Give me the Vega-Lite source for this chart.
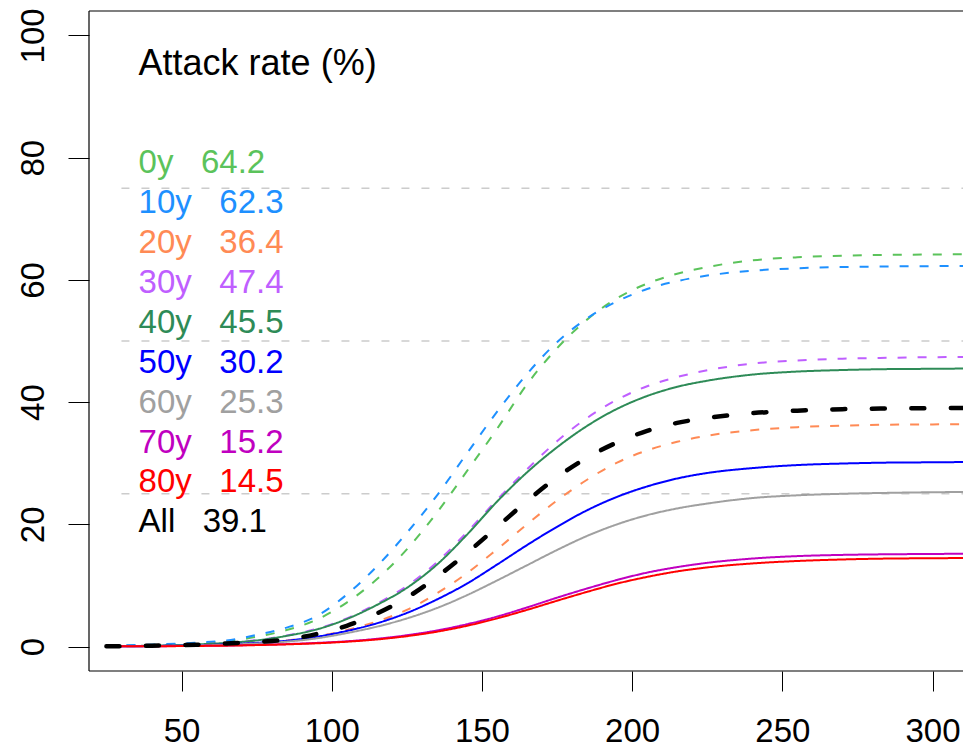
{
  "$schema": "https://vega.github.io/schema/vega-lite/v6.json",
  "width": 874,
  "height": 660,
  "autosize": {"type": "none"},
  "padding": {"left": 89, "top": 11, "right": 0, "bottom": 78},
  "background": "white",
  "config": {
    "view": {"stroke": null},
    "font": "Liberation Sans",
    "axis": {"domain": false, "grid": false, "tickColor": "black", "tickWidth": 1, "labelFontSize": 33, "labelColor": "black",
             "labelFont": "Liberation Sans", "labelOverlap": false, "labelFlush": false, "labelBound": false},
    "axisX": {"tickSize": 20, "labelPadding": 24},
    "axisY": {"tickSize": 21, "labelAngle": 270, "labelAlign": "center", "labelBaseline": "alphabetic", "labelPadding": 25}
  },
  "datasets": {
    "curves": [
      {"day":25,"group":"0y","rate":0.1},{"day":35,"group":"0y","rate":0.2},{"day":45,"group":"0y","rate":0.35},{"day":55,"group":"0y","rate":0.55},{"day":65,"group":"0y","rate":0.85},{"day":75,"group":"0y","rate":1.6},{"day":85,"group":"0y","rate":2.7},{"day":95,"group":"0y","rate":4.4},{"day":105,"group":"0y","rate":7.2},{"day":115,"group":"0y","rate":11.0},{"day":125,"group":"0y","rate":15.9},{"day":135,"group":"0y","rate":21.9},{"day":145,"group":"0y","rate":28.7},{"day":155,"group":"0y","rate":35.6},{"day":165,"group":"0y","rate":42.9},{"day":175,"group":"0y","rate":48.8},{"day":185,"group":"0y","rate":53.5},{"day":195,"group":"0y","rate":57.0},{"day":205,"group":"0y","rate":59.4},{"day":215,"group":"0y","rate":61.0},{"day":225,"group":"0y","rate":62.1},{"day":240,"group":"0y","rate":63.2},{"day":255,"group":"0y","rate":63.7},{"day":270,"group":"0y","rate":63.95},{"day":285,"group":"0y","rate":64.1},{"day":300,"group":"0y","rate":64.15},{"day":312,"group":"0y","rate":64.2},
      {"day":25,"group":"10y","rate":0.15},{"day":35,"group":"10y","rate":0.25},{"day":45,"group":"10y","rate":0.4},{"day":55,"group":"10y","rate":0.65},{"day":65,"group":"10y","rate":1.0},{"day":75,"group":"10y","rate":1.9},{"day":85,"group":"10y","rate":3.1},{"day":95,"group":"10y","rate":5.0},{"day":105,"group":"10y","rate":8.5},{"day":115,"group":"10y","rate":13.1},{"day":125,"group":"10y","rate":18.6},{"day":135,"group":"10y","rate":24.7},{"day":145,"group":"10y","rate":31.6},{"day":155,"group":"10y","rate":38.4},{"day":165,"group":"10y","rate":44.6},{"day":175,"group":"10y","rate":49.8},{"day":185,"group":"10y","rate":53.7},{"day":195,"group":"10y","rate":56.5},{"day":205,"group":"10y","rate":58.5},{"day":215,"group":"10y","rate":59.8},{"day":225,"group":"10y","rate":60.7},{"day":240,"group":"10y","rate":61.5},{"day":255,"group":"10y","rate":61.9},{"day":270,"group":"10y","rate":62.1},{"day":285,"group":"10y","rate":62.2},{"day":300,"group":"10y","rate":62.25},{"day":312,"group":"10y","rate":62.3},
      {"day":25,"group":"20y","rate":0.03},{"day":35,"group":"20y","rate":0.07},{"day":45,"group":"20y","rate":0.12},{"day":55,"group":"20y","rate":0.2},{"day":65,"group":"20y","rate":0.35},{"day":75,"group":"20y","rate":0.6},{"day":85,"group":"20y","rate":1.0},{"day":95,"group":"20y","rate":1.65},{"day":105,"group":"20y","rate":2.7},{"day":115,"group":"20y","rate":4.1},{"day":125,"group":"20y","rate":6.0},{"day":135,"group":"20y","rate":8.7},{"day":145,"group":"20y","rate":12.0},{"day":155,"group":"20y","rate":15.9},{"day":165,"group":"20y","rate":20.0},{"day":175,"group":"20y","rate":23.9},{"day":185,"group":"20y","rate":27.3},{"day":195,"group":"20y","rate":30.1},{"day":205,"group":"20y","rate":32.1},{"day":215,"group":"20y","rate":33.5},{"day":225,"group":"20y","rate":34.5},{"day":240,"group":"20y","rate":35.4},{"day":255,"group":"20y","rate":35.9},{"day":270,"group":"20y","rate":36.15},{"day":285,"group":"20y","rate":36.3},{"day":300,"group":"20y","rate":36.35},{"day":312,"group":"20y","rate":36.4},
      {"day":25,"group":"30y","rate":0.05},{"day":35,"group":"30y","rate":0.1},{"day":45,"group":"30y","rate":0.2},{"day":55,"group":"30y","rate":0.35},{"day":65,"group":"30y","rate":0.6},{"day":75,"group":"30y","rate":1.05},{"day":85,"group":"30y","rate":1.8},{"day":95,"group":"30y","rate":2.9},{"day":105,"group":"30y","rate":4.6},{"day":115,"group":"30y","rate":7.0},{"day":125,"group":"30y","rate":9.9},{"day":135,"group":"30y","rate":13.8},{"day":145,"group":"30y","rate":18.7},{"day":155,"group":"30y","rate":24.0},{"day":165,"group":"30y","rate":29.0},{"day":175,"group":"30y","rate":33.6},{"day":185,"group":"30y","rate":37.4},{"day":195,"group":"30y","rate":40.4},{"day":205,"group":"30y","rate":42.6},{"day":215,"group":"30y","rate":44.1},{"day":225,"group":"30y","rate":45.2},{"day":240,"group":"30y","rate":46.3},{"day":255,"group":"30y","rate":46.8},{"day":270,"group":"30y","rate":47.1},{"day":285,"group":"30y","rate":47.25},{"day":300,"group":"30y","rate":47.35},{"day":312,"group":"30y","rate":47.4},
      {"day":25,"group":"40y","rate":0.05},{"day":35,"group":"40y","rate":0.1},{"day":45,"group":"40y","rate":0.2},{"day":55,"group":"40y","rate":0.35},{"day":65,"group":"40y","rate":0.6},{"day":75,"group":"40y","rate":1.0},{"day":85,"group":"40y","rate":1.75},{"day":95,"group":"40y","rate":2.8},{"day":105,"group":"40y","rate":4.5},{"day":115,"group":"40y","rate":6.8},{"day":125,"group":"40y","rate":9.6},{"day":135,"group":"40y","rate":13.4},{"day":145,"group":"40y","rate":18.3},{"day":155,"group":"40y","rate":23.7},{"day":165,"group":"40y","rate":28.5},{"day":175,"group":"40y","rate":32.6},{"day":185,"group":"40y","rate":36.1},{"day":195,"group":"40y","rate":38.9},{"day":205,"group":"40y","rate":41.0},{"day":215,"group":"40y","rate":42.5},{"day":225,"group":"40y","rate":43.5},{"day":240,"group":"40y","rate":44.5},{"day":255,"group":"40y","rate":45.0},{"day":270,"group":"40y","rate":45.25},{"day":285,"group":"40y","rate":45.4},{"day":300,"group":"40y","rate":45.45},{"day":312,"group":"40y","rate":45.5},
      {"day":25,"group":"50y","rate":0.03},{"day":35,"group":"50y","rate":0.06},{"day":45,"group":"50y","rate":0.12},{"day":55,"group":"50y","rate":0.2},{"day":65,"group":"50y","rate":0.35},{"day":75,"group":"50y","rate":0.6},{"day":85,"group":"50y","rate":0.95},{"day":95,"group":"50y","rate":1.6},{"day":105,"group":"50y","rate":2.55},{"day":115,"group":"50y","rate":3.8},{"day":125,"group":"50y","rate":5.5},{"day":135,"group":"50y","rate":7.7},{"day":145,"group":"50y","rate":10.3},{"day":155,"group":"50y","rate":13.4},{"day":165,"group":"50y","rate":16.6},{"day":175,"group":"50y","rate":19.6},{"day":185,"group":"50y","rate":22.3},{"day":195,"group":"50y","rate":24.5},{"day":205,"group":"50y","rate":26.2},{"day":215,"group":"50y","rate":27.5},{"day":225,"group":"50y","rate":28.4},{"day":240,"group":"50y","rate":29.2},{"day":255,"group":"50y","rate":29.7},{"day":270,"group":"50y","rate":29.95},{"day":285,"group":"50y","rate":30.1},{"day":300,"group":"50y","rate":30.15},{"day":312,"group":"50y","rate":30.2},
      {"day":25,"group":"60y","rate":0.03},{"day":35,"group":"60y","rate":0.06},{"day":45,"group":"60y","rate":0.1},{"day":55,"group":"60y","rate":0.18},{"day":65,"group":"60y","rate":0.3},{"day":75,"group":"60y","rate":0.5},{"day":85,"group":"60y","rate":0.8},{"day":95,"group":"60y","rate":1.35},{"day":105,"group":"60y","rate":2.2},{"day":115,"group":"60y","rate":3.25},{"day":125,"group":"60y","rate":4.6},{"day":135,"group":"60y","rate":6.3},{"day":145,"group":"60y","rate":8.4},{"day":155,"group":"60y","rate":10.8},{"day":165,"group":"60y","rate":13.3},{"day":175,"group":"60y","rate":15.8},{"day":185,"group":"60y","rate":18.1},{"day":195,"group":"60y","rate":20.0},{"day":205,"group":"60y","rate":21.5},{"day":215,"group":"60y","rate":22.6},{"day":225,"group":"60y","rate":23.4},{"day":240,"group":"60y","rate":24.3},{"day":255,"group":"60y","rate":24.75},{"day":270,"group":"60y","rate":25.0},{"day":285,"group":"60y","rate":25.15},{"day":300,"group":"60y","rate":25.25},{"day":312,"group":"60y","rate":25.3},
      {"day":25,"group":"70y","rate":0.02},{"day":35,"group":"70y","rate":0.04},{"day":45,"group":"70y","rate":0.07},{"day":55,"group":"70y","rate":0.1},{"day":65,"group":"70y","rate":0.17},{"day":75,"group":"70y","rate":0.27},{"day":85,"group":"70y","rate":0.4},{"day":95,"group":"70y","rate":0.6},{"day":105,"group":"70y","rate":0.86},{"day":115,"group":"70y","rate":1.27},{"day":125,"group":"70y","rate":1.85},{"day":135,"group":"70y","rate":2.63},{"day":145,"group":"70y","rate":3.65},{"day":155,"group":"70y","rate":4.9},{"day":165,"group":"70y","rate":6.4},{"day":175,"group":"70y","rate":8.0},{"day":185,"group":"70y","rate":9.5},{"day":195,"group":"70y","rate":10.9},{"day":205,"group":"70y","rate":12.1},{"day":215,"group":"70y","rate":13.0},{"day":225,"group":"70y","rate":13.7},{"day":240,"group":"70y","rate":14.4},{"day":255,"group":"70y","rate":14.8},{"day":270,"group":"70y","rate":15.0},{"day":285,"group":"70y","rate":15.1},{"day":300,"group":"70y","rate":15.15},{"day":312,"group":"70y","rate":15.2},
      {"day":25,"group":"80y","rate":0.02},{"day":35,"group":"80y","rate":0.04},{"day":45,"group":"80y","rate":0.06},{"day":55,"group":"80y","rate":0.1},{"day":65,"group":"80y","rate":0.15},{"day":75,"group":"80y","rate":0.24},{"day":85,"group":"80y","rate":0.36},{"day":95,"group":"80y","rate":0.53},{"day":105,"group":"80y","rate":0.79},{"day":115,"group":"80y","rate":1.16},{"day":125,"group":"80y","rate":1.7},{"day":135,"group":"80y","rate":2.43},{"day":145,"group":"80y","rate":3.4},{"day":155,"group":"80y","rate":4.6},{"day":165,"group":"80y","rate":6.0},{"day":175,"group":"80y","rate":7.5},{"day":185,"group":"80y","rate":8.95},{"day":195,"group":"80y","rate":10.3},{"day":205,"group":"80y","rate":11.4},{"day":215,"group":"80y","rate":12.3},{"day":225,"group":"80y","rate":12.95},{"day":240,"group":"80y","rate":13.6},{"day":255,"group":"80y","rate":14.0},{"day":270,"group":"80y","rate":14.25},{"day":285,"group":"80y","rate":14.4},{"day":300,"group":"80y","rate":14.45},{"day":312,"group":"80y","rate":14.5},
      {"day":25,"group":"All","rate":0.05},{"day":35,"group":"All","rate":0.1},{"day":45,"group":"All","rate":0.2},{"day":55,"group":"All","rate":0.3},{"day":65,"group":"All","rate":0.5},{"day":75,"group":"All","rate":0.75},{"day":85,"group":"All","rate":1.15},{"day":95,"group":"All","rate":2.05},{"day":105,"group":"All","rate":3.4},{"day":115,"group":"All","rate":5.4},{"day":125,"group":"All","rate":8.0},{"day":135,"group":"All","rate":11.4},{"day":145,"group":"All","rate":15.3},{"day":155,"group":"All","rate":19.55},{"day":165,"group":"All","rate":23.8},{"day":175,"group":"All","rate":27.7},{"day":185,"group":"All","rate":30.9},{"day":195,"group":"All","rate":33.4},{"day":205,"group":"All","rate":35.3},{"day":215,"group":"All","rate":36.6},{"day":225,"group":"All","rate":37.4},{"day":240,"group":"All","rate":38.2},{"day":255,"group":"All","rate":38.6},{"day":270,"group":"All","rate":38.85},{"day":285,"group":"All","rate":38.95},{"day":300,"group":"All","rate":39.0},{"day":312,"group":"All","rate":39.05}
    ],
    "labels": [
      {"group":"0y","label":"0y\u00a0\u00a0\u00a064.2","ypos":77.44},
      {"group":"10y","label":"10y\u00a0\u00a0\u00a062.3","ypos":70.91},
      {"group":"20y","label":"20y\u00a0\u00a0\u00a036.4","ypos":64.38},
      {"group":"30y","label":"30y\u00a0\u00a0\u00a047.4","ypos":57.85},
      {"group":"40y","label":"40y\u00a0\u00a0\u00a045.5","ypos":51.32},
      {"group":"50y","label":"50y\u00a0\u00a0\u00a030.2","ypos":44.79},
      {"group":"60y","label":"60y\u00a0\u00a0\u00a025.3","ypos":38.26},
      {"group":"70y","label":"70y\u00a0\u00a0\u00a015.2","ypos":31.73},
      {"group":"80y","label":"80y\u00a0\u00a0\u00a014.5","ypos":25.21},
      {"group":"All","label":"All\u00a0\u00a0\u00a039.1","ypos":18.68}
    ]
  },
  "layer": [
    {
      "data": {"values": [{"level": 25}, {"level": 50}, {"level": 75}]},
      "mark": {"type": "rule", "color": "#CCCCCC", "strokeWidth": 1.5, "strokeDash": [8, 12]},
      "encoding": {
        "x": {"datum": 30, "type": "quantitative", "axis": {"values": [50, 100, 150, 200, 250, 300], "format": "d", "title": null}},
        "x2": {"datum": 310.15},
        "y": {"field": "level", "type": "quantitative", "axis": {"values": [0, 20, 40, 60, 80, 100], "format": "d", "title": null}}
      }
    },
    {
      "data": {"name": "curves"},
      "transform": [{"filter": "datum.group !== 'All'"}],
      "mark": {"type": "line", "interpolate": "monotone", "strokeWidth": 2, "clip": true},
      "encoding": {
        "x": {
          "field": "day", "type": "quantitative",
          "scale": {"domain": [19.2, 310.15], "nice": false, "zero": false},
          "axis": {"values": [50, 100, 150, 200, 250, 300], "format": "d", "title": null}
        },
        "y": {
          "field": "rate", "type": "quantitative",
          "scale": {"domain": [-4, 104], "nice": false, "zero": false},
          "axis": {"values": [0, 20, 40, 60, 80, 100], "format": "d", "title": null}
        },
        "color": {
          "field": "group", "type": "nominal",
          "scale": {"domain": ["0y","10y","20y","30y","40y","50y","60y","70y","80y","All"],
                    "range": ["#5BC35B","#1E90FF","#FF8A55","#BF5FFF","#2E8B57","#0000FF","#A0A0A0","#C000C0","#FF0000","#000000"]},
          "legend": null
        },
        "strokeDash": {
          "field": "group", "type": "nominal",
          "scale": {"domain": ["0y","10y","20y","30y","40y","50y","60y","70y","80y"],
                    "range": [[9,11],[9,11],[9,11],[9,11],[1,0],[1,0],[1,0],[1,0],[1,0]]},
          "legend": null
        }
      }
    },
    {
      "data": {"name": "curves"},
      "transform": [{"filter": "datum.group === 'All'"}],
      "mark": {"type": "line", "interpolate": "monotone", "strokeWidth": 4.5, "color": "#000000", "strokeDash": [13, 26.5], "strokeCap": "round", "clip": true},
      "encoding": {
        "x": {"field": "day", "type": "quantitative", "axis": {"values": [50, 100, 150, 200, 250, 300], "format": "d", "title": null}},
        "y": {"field": "rate", "type": "quantitative", "axis": {"values": [0, 20, 40, 60, 80, 100], "format": "d", "title": null}}
      }
    },
    {
      "data": {"values": [{}]},
      "mark": {"type": "rule", "color": "black", "strokeWidth": 1.2},
      "encoding": {
        "x": {"datum": 19.2, "type": "quantitative", "axis": {"values": [50, 100, 150, 200, 250, 300], "format": "d", "title": null}},
        "y": {"datum": -4, "type": "quantitative", "axis": {"values": [0, 20, 40, 60, 80, 100], "format": "d", "title": null}},
        "y2": {"datum": 104}
      }
    },
    {
      "data": {"values": [{}]},
      "mark": {"type": "rule", "color": "black", "strokeWidth": 1.2},
      "encoding": {
        "x": {"datum": 19.2, "type": "quantitative", "axis": {"values": [50, 100, 150, 200, 250, 300], "format": "d", "title": null}},
        "x2": {"datum": 310.15},
        "y": {"datum": 104, "type": "quantitative", "axis": {"values": [0, 20, 40, 60, 80, 100], "format": "d", "title": null}}
      }
    },
    {
      "data": {"values": [{}]},
      "mark": {"type": "rule", "color": "black", "strokeWidth": 1.2},
      "encoding": {
        "x": {"datum": 19.2, "type": "quantitative", "axis": {"values": [50, 100, 150, 200, 250, 300], "format": "d", "title": null}},
        "x2": {"datum": 310.15},
        "y": {"datum": -4, "type": "quantitative", "axis": {"values": [0, 20, 40, 60, 80, 100], "format": "d", "title": null}}
      }
    },
    {
      "data": {"values": [{"label": "Attack rate (%)"}]},
      "mark": {"type": "text", "align": "left", "baseline": "alphabetic", "fontSize": 36, "font": "Liberation Sans", "color": "black"},
      "encoding": {
        "x": {"datum": 35.7, "type": "quantitative", "axis": {"values": [50, 100, 150, 200, 250, 300], "format": "d", "title": null}},
        "y": {"datum": 93.5, "type": "quantitative", "axis": {"values": [0, 20, 40, 60, 80, 100], "format": "d", "title": null}},
        "text": {"field": "label"}
      }
    },
    {
      "data": {"name": "labels"},
      "mark": {"type": "text", "align": "left", "baseline": "alphabetic", "fontSize": 33, "font": "Liberation Sans"},
      "encoding": {
        "x": {"datum": 35.7, "type": "quantitative", "axis": {"values": [50, 100, 150, 200, 250, 300], "format": "d", "title": null}},
        "y": {"field": "ypos", "type": "quantitative", "axis": {"values": [0, 20, 40, 60, 80, 100], "format": "d", "title": null}},
        "text": {"field": "label"},
        "color": {
          "field": "group", "type": "nominal",
          "scale": {"domain": ["0y","10y","20y","30y","40y","50y","60y","70y","80y","All"],
                    "range": ["#5BC35B","#1E90FF","#FF8A55","#BF5FFF","#2E8B57","#0000FF","#A0A0A0","#C000C0","#FF0000","#000000"]},
          "legend": null
        }
      }
    }
  ]
}
